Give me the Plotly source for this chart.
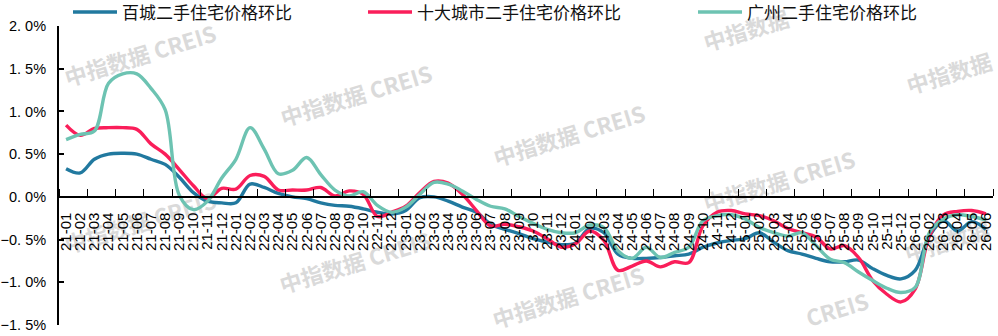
import plotly.graph_objects as go

months = ["21-01","21-02","21-03","21-04","21-05","21-06","21-07","21-08","21-09","21-10","21-11","21-12",
          "22-01","22-02","22-03","22-04","22-05","22-06","22-07","22-08","22-09","22-10","22-11","22-12",
          "23-01","23-02","23-03","23-04","23-05","23-06","23-07","23-08","23-09","23-10","23-11","23-12",
          "24-01","24-02","24-03","24-04","24-05","24-06","24-07","24-08","24-09","24-10","24-11","24-12",
          "25-01","25-02","25-03","25-04","25-05","25-06","25-07","25-08","25-09","25-10","25-11","25-12",
          "26-01","26-02","26-03","26-04","26-05","26-06"]

baicheng = [0.33, 0.28, 0.44, 0.50, 0.51, 0.50, 0.44, 0.38, 0.23, 0.05, -0.05, -0.07,
            -0.07, 0.15, 0.11, 0.04, 0.00, -0.02, -0.07, -0.10, -0.11, -0.14, -0.18, -0.20,
            -0.16, -0.01, 0.00, -0.05, -0.12, -0.18, -0.32, -0.38, -0.43, -0.49, -0.53, -0.56,
            -0.54, -0.37, -0.42, -0.67, -0.72, -0.72, -0.71, -0.69, -0.67, -0.59, -0.54, -0.51,
            -0.49, -0.42, -0.53, -0.63, -0.67, -0.72, -0.76, -0.76, -0.74, -0.84, -0.92, -0.96,
            -0.86, -0.46, -0.28, -0.40, -0.29, -0.38]

shida = [0.84, 0.72, 0.80, 0.81, 0.81, 0.79, 0.62, 0.50, 0.32, 0.13, -0.02, 0.10,
         0.09, 0.25, 0.24, 0.08, 0.08, 0.08, 0.11, 0.01, 0.07, 0.03, -0.23, -0.18,
         -0.11, 0.05, 0.18, 0.16, 0.03, -0.16, -0.34, -0.32, -0.35, -0.40, -0.49, -0.59,
         -0.55, -0.40, -0.51, -0.86, -0.81, -0.75, -0.82, -0.76, -0.77, -0.34, -0.18, -0.16,
         -0.20, -0.22, -0.28, -0.37, -0.42, -0.47, -0.61, -0.57, -0.71, -0.98, -1.14, -1.23,
         -1.08, -0.46, -0.21, -0.17, -0.16, -0.20]

guangzhou = [0.67, 0.73, 0.77, 1.33, 1.44, 1.44, 1.27, 1.02, 0.02, -0.15, -0.05, 0.22,
             0.44, 0.81, 0.56, 0.27, 0.31, 0.46, 0.26, 0.08, 0.01, 0.06, -0.10, -0.18,
             -0.12, 0.03, 0.17, 0.15, 0.07, -0.03, -0.11, -0.14, -0.23, -0.31, -0.38, -0.42,
             -0.42, -0.33, -0.36, -0.63, -0.72, -0.59, -0.71, -0.65, -0.59, -0.28, -0.22, -0.21,
             -0.26, -0.36, -0.42, -0.46, -0.42, -0.57, -0.73, -0.77, -0.88, -0.98, -1.07, -1.12,
             -1.06, -0.42, -0.26, -0.21, -0.23, -0.27]

series_names = ["百城二手住宅价格环比", "十大城市二手住宅价格环比", "广州二手住宅价格环比"]
series_colors = ["#21799F", "#FA1E5A", "#6DC3B2"]

y_ticks = [2.0, 1.5, 1.0, 0.5, 0.0, -0.5, -1.0, -1.5]
y_tick_labels = ["2. 0%", "1. 5%", "1. 0%", "0. 5%", "0. 0%", "\u22120. 5%", "\u22121. 0%", "\u22121. 5%"]

# watermark texts and their centres (pixels); edge ones only show the visible part
watermark_items = [("中指数据 CREIS", 141, 58), ("中指数据 CREIS", 357, 98),
                   ("中指数据 CREIS", 570, 138), ("中指数据 CREIS", 780, 184),
                   ("中指数据", 948, 244), ("中指数据", 747, 33), ("中指数据", 950, 76),
                   ("中指数据 CREIS", 141, 225), ("中指数据 CREIS", 356, 265),
                   ("中指数据 CREIS", 569, 300), ("CREIS", 838, 312)]

W, H = 998, 336
ML, MR, MT, MB = 59, 5, 26, 11
PW, PH = W - ML - MR, H - MT - MB


def px_x(p):
    return (p - ML) / PW


def px_y(p):
    return (H - MB - p) / PH


x_idx = list(range(len(months)))
fig = go.Figure()
legend_ids = ["legend", "legend2", "legend3"]
for name, vals, col, lg in zip(series_names, [baicheng, shida, guangzhou], series_colors, legend_ids):
    fig.add_trace(go.Scatter(x=x_idx, y=vals, name=name, mode="lines",
                             line=dict(color=col, width=3.4, shape="spline", smoothing=1.0),
                             legend=lg))

shapes = []
for txt, cx, cy in watermark_items:
    shapes.append(dict(type="rect", xref="paper", yref="paper",
                       x0=px_x(cx) - 0.0005, x1=px_x(cx) + 0.0005,
                       y0=px_y(cy) - 0.0005, y1=px_y(cy) + 0.0005,
                       line=dict(width=0, color="rgba(0,0,0,0)"), fillcolor="rgba(0,0,0,0)",
                       layer="below",
                       label=dict(text=txt, textangle=-17, textposition="middle center",
                                  font=dict(family="Noto Sans CJK SC", size=22, color="#DADADA",
                                            weight="bold"))))

leg_common = dict(orientation="h", yanchor="middle", y=px_y(12.5), xanchor="left",
                  bgcolor="rgba(0,0,0,0)", itemwidth=44,
                  font=dict(family="Noto Sans CJK SC", size=17, color="#111111"))

fig.update_layout(
    width=W, height=H,
    margin=dict(l=ML, r=MR, t=MT, b=MB, autoexpand=False),
    plot_bgcolor="white", paper_bgcolor="white",
    showlegend=True,
    legend=dict(x=px_x(68), **leg_common),
    legend2=dict(x=px_x(363), **leg_common),
    legend3=dict(x=px_x(693), **leg_common),
    shapes=shapes,
    xaxis=dict(range=[-0.5, 65.5], tickmode="array", tickvals=x_idx, ticktext=months,
               tickangle=-90, ticks="", showline=True, linecolor="black", linewidth=1.5,
               anchor="free", position=(0 - (-1.5)) / 3.5, showgrid=False, zeroline=False,
               tickfont=dict(family="Liberation Sans", size=15, color="black"),
               ticklabelstandoff=9,
               minor=dict(tickmode="array", tickvals=[-0.5 + 2 * k for k in range(34)],
                          ticks="inside", ticklen=7, tickwidth=1, tickcolor="black",
                          showgrid=False)),
    yaxis=dict(range=[-1.5, 2.0], tickmode="array", tickvals=y_ticks, ticktext=y_tick_labels,
               ticks="inside", ticklen=5, tickwidth=2, tickcolor="black",
               showline=True, linecolor="black", linewidth=2, showgrid=False, zeroline=False,
               tickfont=dict(family="Liberation Sans", size=14.5, color="black"),
               ticklabelstandoff=8),
)

fig.write_html("out.html")
